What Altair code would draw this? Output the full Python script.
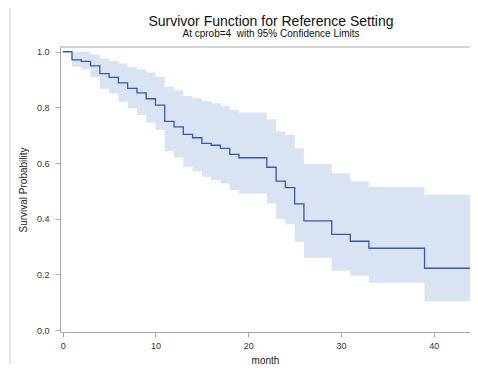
import altair as alt
import pandas as pd

# step start times (months) and values
months = [0, 1, 2, 3, 4, 5, 6, 7, 8, 9, 10, 11, 12, 13, 14, 15, 16, 17, 18, 19,
          22, 23, 24, 25, 26, 29, 31, 33, 39]
survival = [1.0, 0.971, 0.965, 0.949, 0.921, 0.908, 0.888, 0.868, 0.852, 0.831,
            0.808, 0.750, 0.730, 0.703, 0.691, 0.671, 0.664, 0.653, 0.631, 0.619,
            0.585, 0.535, 0.512, 0.453, 0.392, 0.344, 0.319, 0.294, 0.222]
upper = [1.0, 1.0, 1.0, 0.990, 0.976, 0.968, 0.958, 0.946, 0.937, 0.925,
         0.910, 0.874, 0.862, 0.841, 0.833, 0.823, 0.815, 0.806, 0.791, 0.782,
         0.757, 0.713, 0.701, 0.653, 0.597, 0.563, 0.535, 0.515, 0.485]
lower = [1.0, 0.946, 0.937, 0.908, 0.867, 0.850, 0.820, 0.797, 0.773, 0.745,
         0.719, 0.642, 0.622, 0.586, 0.571, 0.551, 0.539, 0.527, 0.503, 0.491,
         0.455, 0.399, 0.380, 0.317, 0.260, 0.213, 0.195, 0.170, 0.104]
end_month = 45
x_ticks = [0, 10, 20, 30, 40]
y_ticks = [0.0, 0.2, 0.4, 0.6, 0.8, 1.0]
title_text = ["Survivor Function for Reference Setting"]
subtitle_text = ["At cprob=4 \u00a0with 95% Confidence Limits"]

df = pd.DataFrame({
    "month": months + [end_month],
    "surv": survival + [survival[-1]],
    "lcl": lower + [lower[-1]],
    "ucl": upper + [upper[-1]],
})

W, H = 410, 285
FONT = "Liberation Sans"
GRAY = "#a8a8a8"

xs = alt.Scale(domain=[-0.29, 43.9], nice=False, zero=False)
ys = alt.Scale(domain=[-0.007, 1.017], nice=False, zero=False)

base = alt.Chart(df)

band = base.mark_area(interpolate="step-after", color="#dae3f1", opacity=1, clip=True).encode(
    x=alt.X("month:Q", scale=xs,
            axis=alt.Axis(values=x_ticks, title="month", grid=False, format="d")),
    y=alt.Y("lcl:Q", scale=ys,
            axis=alt.Axis(values=y_ticks, title="Survival Probability", grid=False, format=".1f")),
    y2="ucl:Q",
)

line = base.mark_line(interpolate="step-after", color="#3558b0", strokeWidth=1.3, clip=True).encode(
    x=alt.X("month:Q", scale=xs),
    y=alt.Y("surv:Q", scale=ys),
)

one = pd.DataFrame({"a": [0]})
top_frame = alt.Chart(one).mark_rule(color=GRAY, strokeWidth=1).encode(
    x=alt.value(0), x2=alt.value(W + 10), y=alt.value(0)
)
outer_border = alt.Chart(one).mark_rule(color="#d0d0d0", strokeWidth=1).encode(
    x=alt.value(-50), y=alt.value(-42), y2=alt.value(H + 40)
)

title = alt.Chart(pd.DataFrame({"t": title_text})).mark_text(
    font=FONT, fontSize=14, color="#111", align="center", baseline="middle"
).encode(x=alt.value(211), y=alt.value(-25), text="t:N")

subtitle = alt.Chart(pd.DataFrame({"t": subtitle_text})).mark_text(
    font=FONT, fontSize=10, color="#111", align="center", baseline="middle"
).encode(x=alt.value(211), y=alt.value(-13), text="t:N")

chart = alt.layer(band, line, top_frame, outer_border, title, subtitle).properties(
    width=W,
    height=H,
    padding={"left": 52, "top": 39, "right": 0, "bottom": 32},
    autosize=alt.AutoSizeParams(type="none"),
).configure_view(stroke=None).configure_axis(
    domainColor=GRAY, tickColor=GRAY, tickSize=5,
    labelFont=FONT, labelFontSize=9, labelColor="#333", labelPadding=5,
    titleFont=FONT, titleFontSize=10, titleColor="#222", titleFontWeight="normal",
).configure_axisY(titlePadding=8, labelPadding=6).configure_axisX(titlePadding=5, labelPadding=4)

chart.save("out.html", embed_options={"renderer": "svg", "actions": False})
